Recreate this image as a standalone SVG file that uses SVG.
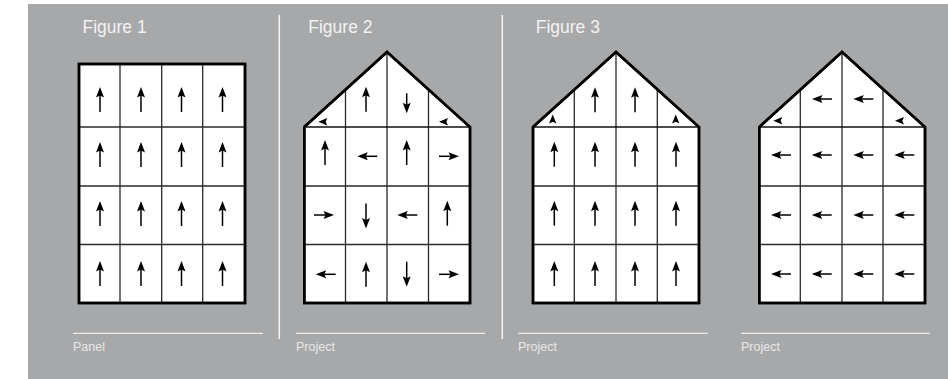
<svg xmlns="http://www.w3.org/2000/svg" xmlns:xlink="http://www.w3.org/1999/xlink" width="948" height="379" viewBox="0 0 948 379">
<style>
.bg{fill:#a7a8aa}
.sep{stroke:#f4f4f4;stroke-width:1.5;fill:none}
.base{stroke:#ececec;stroke-width:1.3;fill:none}
.title{font-family:"Liberation Sans",Arial,sans-serif;font-size:17.5px;fill:#f3f3f3}
.lbl{font-family:"Liberation Sans",Arial,sans-serif;font-size:12.5px;fill:#e8e8e8}
.out{fill:#fff;stroke:#000;stroke-width:2.5;stroke-linejoin:miter}
.in{stroke:#2a2a2a;stroke-width:1.3;fill:none}
.eave{stroke:#111;stroke-width:1.7;fill:none}
.shaft{stroke:#000;stroke-width:1.5;fill:none}
</style>
<defs>
<path id="hd" d="M0,0 L4,10.5 L0,8.5 L-4,10.5 Z" fill="#000"/>
<g id="a25"><use href="#hd"/><line class="shaft" x1="0" y1="8" x2="0" y2="25"/></g>
<g id="a20"><use href="#hd"/><line class="shaft" x1="0" y1="8" x2="0" y2="20"/></g>
<path id="hs" d="M0,0 L3.7,9 L0,7.3 L-3.7,9 Z" fill="#000"/>
</defs>
<rect class="bg" x="28" y="4" width="920" height="375"/>
<line class="sep" x1="279.3" y1="15" x2="279.3" y2="339"/>
<line class="sep" x1="502.3" y1="15" x2="502.3" y2="339"/>

<g id="fig1">
<text class="title" x="82.5" y="33">Figure 1</text>
<rect class="out" x="79" y="64" width="166" height="239"/>
<path class="in" d="M120,64V303M161.7,64V303M202.7,64V303M79,127H245M79,186H245M79,244.5H245"/>
<rect x="79" y="64" width="166" height="239" fill="none" stroke="#000" stroke-width="2.5"/>
<g>
<use href="#a25" transform="translate(100,87)"/><use href="#a25" transform="translate(141,87)"/><use href="#a25" transform="translate(181.5,87)"/><use href="#a25" transform="translate(222.5,87)"/>
<use href="#a25" transform="translate(100,142)"/><use href="#a25" transform="translate(141,142)"/><use href="#a25" transform="translate(181.5,142)"/><use href="#a25" transform="translate(222.5,142)"/>
<use href="#a25" transform="translate(100,201)"/><use href="#a25" transform="translate(141,201)"/><use href="#a25" transform="translate(181.5,201)"/><use href="#a25" transform="translate(222.5,201)"/>
<use href="#a25" transform="translate(100,261)"/><use href="#a25" transform="translate(141,261)"/><use href="#a25" transform="translate(181.5,261)"/><use href="#a25" transform="translate(222.5,261)"/>
</g>
<line class="base" x1="73" y1="333.3" x2="263" y2="333.3"/>
<text class="lbl" x="73" y="350.5">Panel</text>
</g>

<g id="fig2">
<text class="title" x="308.3" y="33">Figure 2</text>
<polygon class="out" points="304.3,127 387,52 470,127 470,303 304.3,303"/>
<path class="in" d="M345.5,89.6V303M387,52V303M428.5,89.5V303M304.3,186H470M304.3,244.5H470"/>
<path class="eave" d="M304.3,127H470"/>
<polygon points="304.3,127 387,52 470,127 470,303 304.3,303" fill="none" stroke="#000" stroke-width="2.5"/>
<g>
<use href="#hs" transform="translate(318.3,121.7) rotate(-90)"/>
<use href="#a25" transform="translate(366,86.7)"/>
<use href="#a20" transform="translate(406.7,113.3) rotate(180)"/>
<use href="#hs" transform="translate(439,121.7) rotate(-90)"/>
<use href="#a25" transform="translate(325,140)"/>
<use href="#a20" transform="translate(357.3,156.3) rotate(-90)"/>
<use href="#a25" transform="translate(406.7,140)"/>
<use href="#a20" transform="translate(459,156.3) rotate(90)"/>
<use href="#a20" transform="translate(334,215) rotate(90)"/>
<use href="#a25" transform="translate(366,228.5) rotate(180)"/>
<use href="#a20" transform="translate(397.3,215) rotate(-90)"/>
<use href="#a25" transform="translate(447.3,200.7)"/>
<use href="#a20" transform="translate(315.7,274.3) rotate(-90)"/>
<use href="#a25" transform="translate(366,261.7)"/>
<use href="#a25" transform="translate(406.7,286.7) rotate(180)"/>
<use href="#a20" transform="translate(459,274.3) rotate(90)"/>
</g>
<line class="base" x1="296" y1="333.3" x2="485" y2="333.3"/>
<text class="lbl" x="296" y="350.5">Project</text>
</g>

<g id="fig3">
<text class="title" x="535.7" y="33">Figure 3</text>
<polygon class="out" points="533,127 616,52 699,127 699,303 533,303"/>
<path class="in" d="M574.3,89.6V303M616,52V303M657.3,89.6V303M533,186H699M533,244.5H699"/>
<path class="eave" d="M533,127H699"/>
<polygon points="533,127 616,52 699,127 699,303 533,303" fill="none" stroke="#000" stroke-width="2.5"/>
<g>
<use href="#hs" transform="translate(552.7,114.5)"/>
<use href="#a25" transform="translate(595,87.3)"/>
<use href="#a25" transform="translate(635,87.3)"/>
<use href="#hs" transform="translate(675.7,114.5)"/>
<use href="#a25" transform="translate(554.3,141.7)"/><use href="#a25" transform="translate(595,141.7)"/><use href="#a25" transform="translate(635,141.7)"/><use href="#a25" transform="translate(676,141.7)"/>
<use href="#a25" transform="translate(554.3,200.7)"/><use href="#a25" transform="translate(595,200.7)"/><use href="#a25" transform="translate(635,200.7)"/><use href="#a25" transform="translate(676,200.7)"/>
<use href="#a25" transform="translate(554.3,261)"/><use href="#a25" transform="translate(595,261)"/><use href="#a25" transform="translate(635,261)"/><use href="#a25" transform="translate(676,261)"/>
</g>
<line class="base" x1="518" y1="333.3" x2="707.7" y2="333.3"/>
<text class="lbl" x="518" y="350.5">Project</text>
</g>

<g id="fig4">
<polygon class="out" points="759.3,127 842,52 925,127 925,303 759.3,303"/>
<path class="in" d="M800.3,89.6V303M842,52V303M883,89.8V303M759.3,186H925M759.3,244.5H925"/>
<path class="eave" d="M759.3,127H925"/>
<polygon points="759.3,127 842,52 925,127 925,303 759.3,303" fill="none" stroke="#000" stroke-width="2.5"/>
<g>
<use href="#hs" transform="translate(773.3,120.7) rotate(-90)"/>
<use href="#a20" transform="translate(812,99) rotate(-90)"/>
<use href="#a20" transform="translate(853.3,99) rotate(-90)"/>
<use href="#hs" transform="translate(895,120.7) rotate(-90)"/>
<use href="#a20" transform="translate(771,155) rotate(-90)"/><use href="#a20" transform="translate(811.7,155) rotate(-90)"/><use href="#a20" transform="translate(853.3,155) rotate(-90)"/><use href="#a20" transform="translate(894.3,155) rotate(-90)"/>
<use href="#a20" transform="translate(771,215) rotate(-90)"/><use href="#a20" transform="translate(811.7,215) rotate(-90)"/><use href="#a20" transform="translate(853.3,215) rotate(-90)"/><use href="#a20" transform="translate(894.3,215) rotate(-90)"/>
<use href="#a20" transform="translate(771,274) rotate(-90)"/><use href="#a20" transform="translate(811.7,274) rotate(-90)"/><use href="#a20" transform="translate(853.3,274) rotate(-90)"/><use href="#a20" transform="translate(894.3,274) rotate(-90)"/>
</g>
<line class="base" x1="741" y1="333.3" x2="930" y2="333.3"/>
<text class="lbl" x="741" y="350.5">Project</text>
</g>
</svg>
